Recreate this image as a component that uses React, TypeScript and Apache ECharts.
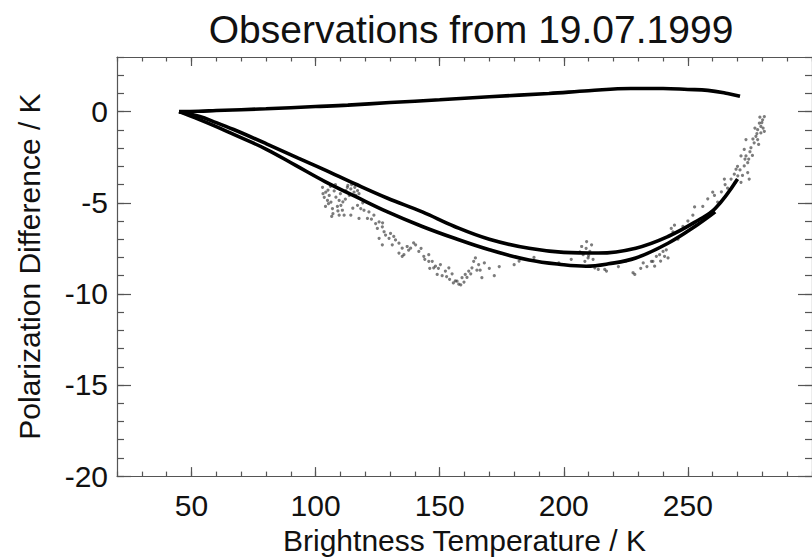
import React, { useEffect, useRef } from "react";
import * as echarts from "echarts";

const xMajorTicks = [50, 100, 150, 200, 250];
const yMajorTicks = [-20, -15, -10, -5, 0];

// upper model curve (small positive difference)
const topCurve = [
  [45, 0], [53, 0.02], [60, 0.06], [80, 0.16], [100, 0.28], [113, 0.36], [130, 0.5],
  [150, 0.65], [170, 0.82], [194, 1.0], [210, 1.15], [227, 1.27], [240, 1.27],
  [250, 1.22], [258, 1.17], [266, 1.0], [271, 0.85],
];

// upper one of the two lower model curves (longer)
const modelA = [
  [45, 0], [53, -0.25], [60, -0.6], [67, -0.98], [80, -1.75], [93, -2.55], [103, -3.15],
  [116, -3.97], [129, -4.75], [143, -5.5], [156, -6.3], [170, -7.0], [186, -7.5],
  [200, -7.72], [214, -7.76], [229, -7.49], [242, -6.85], [254, -5.97], [261, -5.32], [270, -3.7],
];

// lower one of the two lower model curves (shorter)
const modelB = [
  [45, 0], [53, -0.42], [60, -0.82], [67, -1.25], [80, -2.05], [92, -2.95], [104, -3.85],
  [116, -4.65], [129, -5.5], [143, -6.3], [156, -6.95], [170, -7.58], [186, -8.14],
  [200, -8.4], [209, -8.48], [218, -8.35], [229, -8.03], [242, -7.22], [254, -6.19], [261, -5.5],
];

// observed points
const observations = [
  [102.8, -4.15], [104.1, -4.42], [105.5, -4.6], [104.8, -4.87], [106.2, -4.96], [106.8, -5.32],
  [108.2, -4.69], [109.5, -4.87], [110.2, -5.14], [110.8, -5.41], [109.5, -5.68], [111.5, -5.68],
  [112.2, -4.33], [112.8, -4.15], [114.2, -4.24], [115.5, -4.42], [116.9, -4.33], [116.2, -4.6],
  [116.9, -5.14], [118.2, -5.32], [119.5, -5.41], [120.9, -5.86], [121.5, -5.5], [123.5, -5.68],
  [124.2, -6.14], [124.9, -6.41], [125.6, -6.05], [126.9, -6.32], [127.6, -6.59], [128.2, -6.77],
  [129.6, -6.95], [130.2, -6.68], [130.9, -7.31], [132.2, -7.04], [133.6, -7.22], [134.9, -7.49],
  [135.6, -7.85], [136.9, -7.4], [138.3, -7.49], [140.3, -7.31], [141.6, -7.67], [143.6, -7.94],
  [145.6, -7.85], [147, -8.21], [147.6, -8.57], [149, -8.93], [150.3, -8.39], [152.3, -8.75],
  [153.7, -8.57], [156.3, -9.29], [157.7, -9.47], [159, -9.11], [160.3, -8.93], [161.7, -8.75],
  [163, -8.57], [163.7, -8.21], [164.4, -8.03], [165.7, -8.39], [167, -9.11], [114.2, -5.68],
  [117.5, -5.86], [125.6, -6.95], [126.9, -7.31], [133.6, -7.76], [134.9, -7.94], [148.3, -8.48],
  [145.6, -8.21], [108, -4.0], [113, -4.05], [117.5, -4.5], [112, -4.8], [107, -5.6], [104, -5.2],
  [103, -4.5], [110, -4.5], [114.5, -4.0], [115.8, -4.15], [105, -4.3], [106, -4.1],
  [144, -8.1], [146, -8.6], [151, -9.0], [154, -9.2], [155.5, -9.4], [158.5, -9.5], [161, -9.1],
  [165, -8.7], [168, -8.3], [170, -8.6], [172, -9.0], [174, -8.5], [180, -8.4], [182, -8.2],
  [188, -8.0], [207.2, -7.4], [209.2, -7.13], [211.2, -7.31], [207.8, -7.85], [209.8, -8.03],
  [208.5, -8.21], [210.5, -7.67], [212.5, -8.57], [213.9, -8.66], [217.2, -8.75], [228.6, -8.93],
  [235.9, -8.21], [236.6, -8.48], [238.6, -7.85], [240, -7.67], [240.6, -7.94], [241.3, -7.58],
  [242, -8.03], [243.3, -6.41], [244.6, -6.23], [252, -5.68], [252.7, -5.23], [260, -4.42],
  [262, -4.96], [264.7, -3.7], [267.4, -3.7], [269.4, -3.16], [270.1, -3.52], [271.4, -3.88],
  [272.7, -2.98], [273.4, -2.43], [274.1, -3.34], [271.4, -2.43], [272.7, -2.07], [273.4, -1.53],
  [274.1, -2.8], [275.4, -1.98], [276.7, -1.71], [277.4, -1.35], [278.1, -0.99], [278.8, -0.63],
  [279.4, -1.17], [280.1, -0.45], [280.8, -0.27], [279.4, -0.81], [280.8, -1.08], [278.1, -1.53],
  [274.7, -3.7], [268.7, -3.43], [216.5, -8.66], [227.9, -8.84], [235.3, -8.21], [237.3, -7.94],
  [244, -6.6], [248, -6.3], [250, -6.0], [256, -5.2], [258, -4.78], [260.7, -4.6], [265, -4.0],
  [270, -3.0], [276, -2.4], [277, -0.9], [279, -0.3], [198, -8.3], [203, -8.1], [222, -8.5],
  [231, -8.6], [225, -8.2], [246, -7.0], [232, -8.3],
  [103.5, -4.7], [105.2, -5.05], [107.5, -4.35], [108.8, -5.2], [111, -4.95], [113.6, -4.6],
  [115, -5.3], [106.5, -5.75], [109, -5.45], [119, -5.0], [122.5, -5.9], [127, -6.1],
  [131.5, -6.85], [137.5, -7.6], [139.5, -7.2], [142.5, -7.5], [149.5, -8.6], [152.8, -9.05],
  [155, -8.9], [157, -9.3], [159.8, -9.35], [162.5, -8.9], [166.3, -8.7], [209, -7.5],
  [210, -7.9], [211.8, -8.1], [206.5, -7.7], [269, -3.9], [271, -3.2], [273, -2.6],
  [275, -2.2], [276.2, -1.5], [277.8, -1.2], [279.8, -0.6], [280.3, -0.9], [278.5, -1.8],
  [274.5, -2.6], [272, -3.5], [266, -4.2], [263.5, -4.4], [239, -8.2], [233.5, -8.5],
];

const X_MIN = 20;
const X_MAX = 300;
const Y_MIN = -20;
const Y_MAX = 3;

export default function App() {
  const ref = useRef<HTMLDivElement>(null);

  useEffect(() => {
    if (!ref.current) return;
    const chart = echarts.init(ref.current, null, { renderer: "svg" });
    const font = "'Liberation Sans', Arial, Helvetica, sans-serif";
    const axisColor = "#555";
    const tickStyle = { color: axisColor, width: 1.2 };
    const labelStyle = { fontFamily: font, fontSize: 30, color: "#111" };

    const xCommon = { type: "value", min: X_MIN, max: X_MAX, splitLine: { show: false } };
    const yCommon = { type: "value", min: Y_MIN, max: Y_MAX, splitLine: { show: false } };

    const curve = (data: number[][]) => ({
      type: "line",
      xAxisIndex: 0,
      yAxisIndex: 0,
      data,
      showSymbol: false,
      smooth: 0.4,
      lineStyle: { color: "#000", width: 3.6 },
      z: 2,
    });

    chart.setOption({
      animation: false,
      backgroundColor: "#ffffff",
      title: {
        text: "Observations from 19.07.1999",
        left: 466,
        textAlign: "center",
        top: 5,
        textStyle: { fontFamily: font, fontSize: 39, fontWeight: "normal", color: "#111" },
      },
      grid: { left: 117, top: 57, width: 697, height: 424, containLabel: false },
      xAxis: [
        {
          ...xCommon,
          position: "bottom",
          name: "Brightness Temperature / K",
          nameLocation: "middle",
          nameGap: 46,
          nameTextStyle: { ...labelStyle, fontSize: 30 },
          axisLine: { show: true, onZero: false, lineStyle: tickStyle },
          axisTick: { show: true, inside: true, length: 9, customValues: xMajorTicks, lineStyle: tickStyle },
          axisLabel: { ...labelStyle, margin: 14, customValues: xMajorTicks },
        },
        {
          ...xCommon,
          position: "bottom",
          interval: 10,
          axisLine: { show: false, onZero: false },
          axisTick: { show: true, inside: true, length: 4.5, lineStyle: tickStyle },
          axisLabel: { show: false },
        },
        {
          ...xCommon,
          position: "top",
          axisLine: { show: true, onZero: false, lineStyle: tickStyle },
          axisTick: { show: true, inside: true, length: 9, customValues: xMajorTicks, lineStyle: tickStyle },
          axisLabel: { show: false },
        },
        {
          ...xCommon,
          position: "top",
          interval: 10,
          axisLine: { show: false, onZero: false },
          axisTick: { show: true, inside: true, length: 4.5, lineStyle: tickStyle },
          axisLabel: { show: false },
        },
      ],
      yAxis: [
        {
          ...yCommon,
          position: "left",
          name: "Polarization Difference / K",
          nameLocation: "middle",
          nameGap: 73,
          nameTextStyle: { ...labelStyle, fontSize: 30 },
          axisLine: { show: true, onZero: false, lineStyle: tickStyle },
          axisTick: { show: true, inside: true, length: 14, customValues: yMajorTicks, lineStyle: tickStyle },
          axisLabel: { ...labelStyle, margin: 9, customValues: yMajorTicks },
        },
        {
          ...yCommon,
          position: "left",
          interval: 1,
          axisLine: { show: false, onZero: false },
          axisTick: { show: true, inside: true, length: 7, lineStyle: tickStyle },
          axisLabel: { show: false },
        },
        {
          ...yCommon,
          position: "right",
          axisLine: { show: true, onZero: false, lineStyle: tickStyle },
          axisTick: { show: true, inside: true, length: 14, customValues: yMajorTicks, lineStyle: tickStyle },
          axisLabel: { show: false },
        },
        {
          ...yCommon,
          position: "right",
          interval: 1,
          axisLine: { show: false, onZero: false },
          axisTick: { show: true, inside: true, length: 7, lineStyle: tickStyle },
          axisLabel: { show: false },
        },
      ],
      series: [
        {
          type: "scatter",
          xAxisIndex: 0,
          yAxisIndex: 0,
          data: observations,
          symbol: "circle",
          symbolSize: 3.2,
          itemStyle: { color: "rgba(45,45,45,0.78)" },
          z: 1,
        },
        curve(topCurve),
        curve(modelA),
        curve(modelB),
      ],
    });

    return () => {
      chart.dispose();
    };
  }, []);

  return (
    <div
      ref={ref}
      style={{ position: "absolute", left: 0, top: 0, width: 812, height: 560, background: "#fff" }}
    />
  );
}
